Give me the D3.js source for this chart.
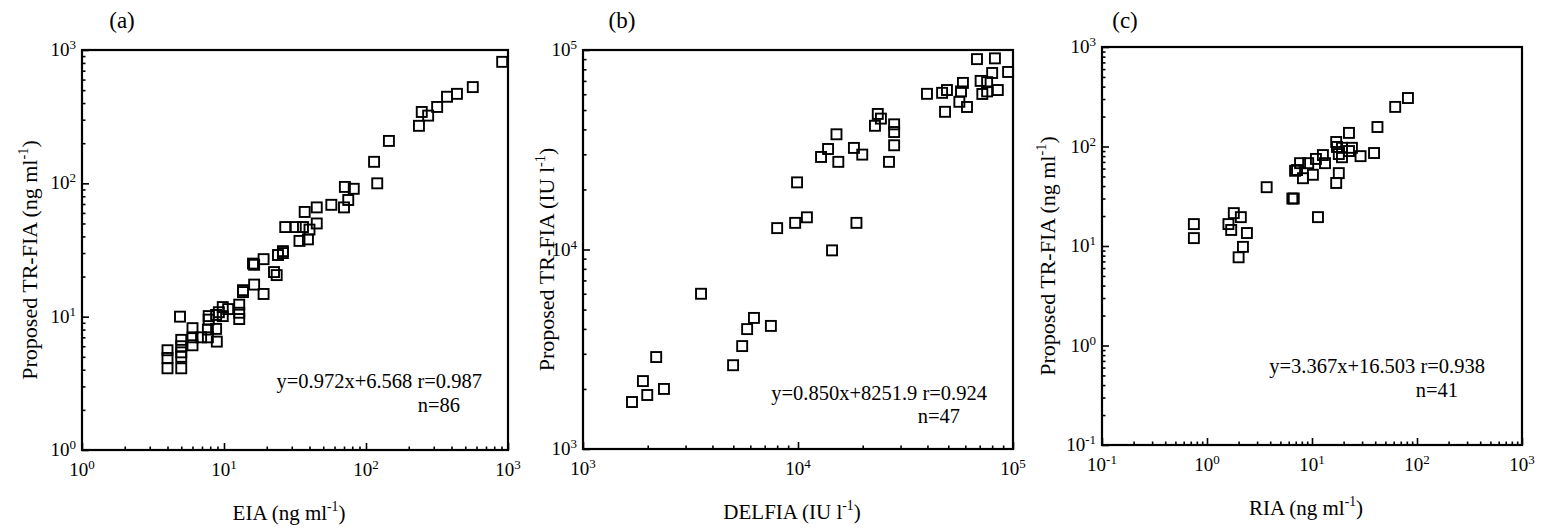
<!DOCTYPE html>
<html>
<head>
<meta charset="utf-8">
<script src="https://d3js.org/d3.v7.min.js"></script>
<style>
  body { margin: 0; background: #fff; }
  svg { font-family: "Liberation Serif", "Times New Roman", serif; }
</style>
</head>
<body>
<div id="chart"></div>
<script>
// values (panel a: EIA vs TR-FIA)
const aX = [910, 565, 437, 372, 317, 274, 247, 236, 145, 114, 120, 71, 82, 75, 70, 57, 45, 37, 45, 40,
  27, 32, 36, 34, 39, 26, 24, 26, 16.3, 16, 19, 22.5, 23.5, 16.3, 13.6, 13.6, 19, 12.8, 12.8, 12.8,
  10.7, 9.8, 9.2, 8.8, 9.8, 7.8, 7.8, 8.8, 7.7, 7.7, 6.9, 8.9, 6, 6, 6, 4.9, 5, 5, 5, 5, 5, 4, 4, 4];
const aY = [815, 527, 469, 446, 374, 322, 343, 270, 208, 145, 100, 94, 91, 75, 66, 69, 66, 61, 50, 45,
  47, 47, 47, 37, 38, 31, 29, 30, 24.5, 25, 27, 21.6, 20.5, 17.4, 15.8, 15.3, 14.8, 12.3, 10.7, 9.6,
  11.4, 11.8, 10.8, 10.3, 10.1, 10.1, 9.5, 8.1, 8.0, 7.0, 7.0, 6.5, 8.2, 7.0, 6.1, 10, 6.7, 6.0, 5.4, 5.0, 4.1, 5.6, 4.9, 4.1];

// panel b: DELFIA vs TR-FIA
const bX = [68000, 82400, 80000, 70700, 75800, 72000, 75800, 85000, 58500, 57300, 56300, 61100, 49300, 46800, 48300, 39800, 94900,
  23500, 24300, 22800, 28000, 28000, 28000, 26500, 15100, 13800, 12800, 15400, 18200, 19900,
  9900, 8000, 9700, 11000, 18700, 14400,
  3540, 6240, 5800, 7480, 5500, 4990, 2190, 1900, 1990, 2380, 1690];
const bY = [90000, 90800, 76700, 70000, 69000, 60200, 62000, 63000, 68400, 62000, 55000, 51800, 63000, 61000, 49000, 60300, 77600,
  47800, 45300, 41700, 42400, 38800, 33300, 27500, 37800, 31900, 29100, 27500, 32300, 29900,
  21700, 12800, 13600, 14500, 13600, 9900,
  6000, 4540, 3990, 4140, 3280, 2630, 2890, 2190, 1865, 2000, 1720];

// panel c: RIA vs TR-FIA
const cX = [82, 62, 42, 39, 29, 22.5, 24, 22.5, 17, 17.3, 19.3, 19.3, 18, 18, 17, 13.3, 12.7, 10.9, 9.2, 7.7,
  7.2, 6.9, 8.2, 10.2, 6.7, 6.5, 3.7, 11.4, 0.75, 0.75, 1.8, 1.6, 2.1, 1.7, 2.4, 2.2, 2.0];
const cY = [307, 250, 157, 86, 80, 137, 97, 90, 111, 99, 97, 78, 84, 54, 43, 68, 82, 75, 68, 68,
  58, 57, 48, 52, 30, 30, 39, 19.5, 16.6, 12.0, 21.4, 16.6, 19.5, 14.5, 13.5, 9.8, 7.7];

const xDomains = [[1, 1000], [1000, 100000], [0.1, 1000]];
const yDomains = [[1, 1000], [1000, 100000], [0.1, 1000]];
const panelTags = ["(a)", "(b)", "(c)"];
const xTitles = [["EIA (ng ml", "-1", ")"], ["DELFIA (IU l", "-1", ")"], ["RIA (ng ml", "-1", ")"]];
const yTitles = [["Proposed TR-FIA (ng ml", "-1", ")"], ["Proposed TR-FIA (IU l", "-1", ")"], ["Proposed TR-FIA (ng ml", "-1", ")"]];
const fitLines = ["y=0.972x+6.568 r=0.987", "y=0.850x+8251.9 r=0.924", "y=3.367x+16.503 r=0.938"];
const nLabels = ["n=86", "n=47", "n=41"];

// layout of each frame and its texts
const frames = [
  {l: 82, t: 50, r: 508, b: 450, tagX: 122, yTitleX: 30, eqX: 482, eqY: 388, nX: 460, nY: 412},
  {l: 583, t: 50, r: 1013, b: 449, tagX: 622, yTitleX: 547, eqX: 987, eqY: 400, nX: 960, nY: 423},
  {l: 1102, t: 47, r: 1522, b: 445, tagX: 1125, yTitleX: 1048, eqX: 1485, eqY: 373, nX: 1458, nY: 397}
];

const W = 1551, H = 529;
const svg = d3.select("#chart").append("svg").attr("width", W).attr("height", H);

function logTicks(domain) {
  let ticks = [];
  let lo = Math.round(Math.log10(domain[0])), hi = Math.round(Math.log10(domain[1]));
  for (let e = lo; e <= hi; e++) {
    for (let m = 1; m <= 9; m++) {
      let v = m * Math.pow(10, e);
      if (v <= domain[1] * 1.0001) ticks.push(v);
    }
  }
  return ticks;
}

function isMajor(v) {
  let e = Math.log10(v);
  return Math.abs(e - Math.round(e)) < 1e-6;
}

// 10 with superscript exponent
function powLabel(sel, v) {
  let e = Math.round(Math.log10(v));
  sel.append("tspan").text("10");
  sel.append("tspan").attr("dy", -7).attr("font-size", 13).text(e);
}

function titleText(g, parts, size) {
  g.append("tspan").text(parts[0]);
  g.append("tspan").attr("dy", -9).attr("font-size", size * 0.65).text(parts[1]);
  g.append("tspan").attr("dy", 9).text(parts[2]);
}

function drawPanel(i, xs, ys) {
  let f = frames[i];
  let x = d3.scaleLog().domain(xDomains[i]).range([f.l, f.r]);
  let y = d3.scaleLog().domain(yDomains[i]).range([f.b, f.t]);
  let g = svg.append("g");

  // axes with inward ticks
  let xAxis = d3.axisBottom(x).tickValues(logTicks(xDomains[i])).tickFormat("").tickSizeOuter(0);
  let yAxis = d3.axisLeft(y).tickValues(logTicks(yDomains[i])).tickFormat("").tickSizeOuter(0);
  let xg = g.append("g").attr("transform", `translate(0, ${f.b})`).call(xAxis);
  let yg = g.append("g").attr("transform", `translate(${f.l}, 0)`).call(yAxis);
  xg.selectAll(".tick line").attr("y2", d => isMajor(d) ? -7 : -3.5).attr("stroke-width", 1.6);
  yg.selectAll(".tick line").attr("x2", d => isMajor(d) ? 7 : 3.5).attr("stroke-width", 1.6);
  xg.select(".domain").remove();
  yg.select(".domain").remove();

  g.append("rect")
    .attr("x", f.l).attr("y", f.t)
    .attr("width", f.r - f.l).attr("height", f.b - f.t)
    .attr("fill", "none").attr("stroke", "#000").attr("stroke-width", 2.2);

  // tick labels
  logTicks(xDomains[i]).filter(isMajor).forEach(v => {
    let t = g.append("text").attr("x", x(v)).attr("y", f.b + 26)
      .attr("text-anchor", "middle").attr("font-size", 19);
    powLabel(t, v);
  });
  logTicks(yDomains[i]).filter(isMajor).forEach(v => {
    let t = g.append("text").attr("x", f.l - 6).attr("y", y(v) + 6)
      .attr("text-anchor", "end").attr("font-size", 19);
    powLabel(t, v);
  });

  // markers
  let pts = xs.map((v, k) => ({x: v, y: ys[k]}));
  let s = 10;
  g.selectAll("rect.pt").data(pts).enter().append("rect")
    .attr("class", "pt")
    .attr("x", d => x(d.x) - s / 2).attr("y", d => y(d.y) - s / 2)
    .attr("width", s).attr("height", s)
    .attr("fill", "none").attr("stroke", "#000").attr("stroke-width", 1.9);

  // texts
  g.append("text").attr("x", f.tagX).attr("y", 28).attr("text-anchor", "middle")
    .attr("font-size", 23).text(panelTags[i]);
  let xt = g.append("text").attr("x", (f.l + f.r) / 2 - 6).attr("y", f.b + 70)
    .attr("text-anchor", "middle").attr("font-size", 21);
  titleText(xt, xTitles[i], 21);
  let yt = g.append("text")
    .attr("transform", `translate(${f.yTitleX + 7}, ${(f.t + f.b) / 2 + 10}) rotate(-90)`)
    .attr("text-anchor", "middle").attr("font-size", 22);
  titleText(yt, yTitles[i], 22);
  g.append("text").attr("x", f.eqX).attr("y", f.eqY).attr("text-anchor", "end")
    .attr("font-size", 20.5).text(fitLines[i]);
  g.append("text").attr("x", f.nX).attr("y", f.nY).attr("text-anchor", "end")
    .attr("font-size", 20.5).text(nLabels[i]);
}

drawPanel(0, aX, aY);
drawPanel(1, bX, bY);
drawPanel(2, cX, cY);
</script>
</body>
</html>
